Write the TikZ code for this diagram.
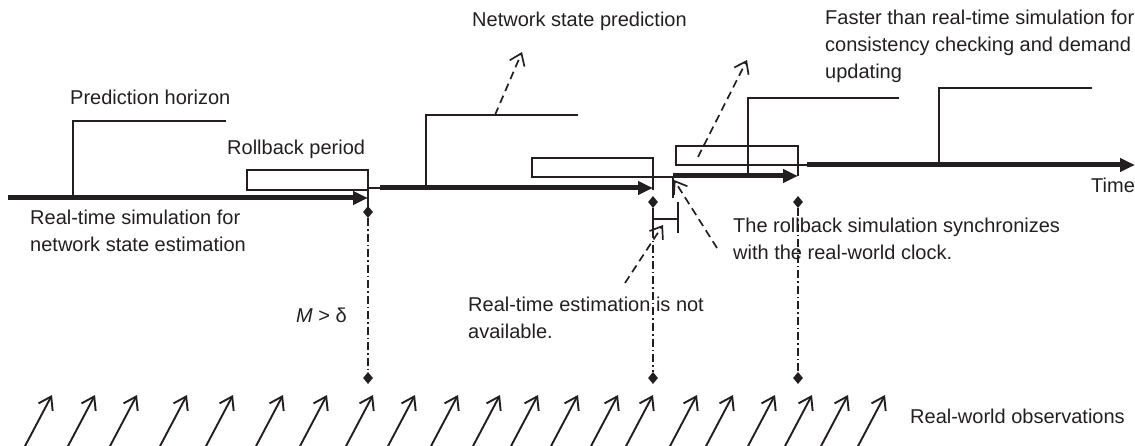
\documentclass[tikz,border=0pt]{standalone}
\usepackage{fontspec}
\setmainfont{Liberation Sans}
\usetikzlibrary{arrows.meta,shapes.geometric}
\definecolor{ink}{HTML}{231F20}
\newcommand{\mlines}[1]{\begin{tabular}[t]{@{}l@{}}#1\end{tabular}}
\begin{document}
\begin{tikzpicture}[x=1pt,y=-1pt,
  lbl/.style={anchor=base west,inner sep=0pt,text=ink,font=\fontsize{20}{27}\selectfont},
  timeline/.style={line width=5pt,draw=ink,-{Triangle[length=15pt,width=13pt]}},
  thin/.style={line width=1.8pt,draw=ink},
  bracketline/.style={line width=2pt,draw=ink},
  dasharrow/.style={line width=1.7pt,draw=ink,dash pattern=on 8pt off 5pt,-{Straight Barb[length=11pt,width=16pt,line width=1.7pt]}},
  obsarrow/.style={line width=1.9pt,draw=ink,-{Straight Barb[length=12pt,width=16pt,line width=1.9pt]}},
  dashdot/.style={line width=1.5pt,draw=ink,dash pattern=on 8pt off 3pt on 1.5pt off 3pt},
  diamark/.style={diamond,fill=ink,draw=none,inner sep=0pt,minimum width=10pt,minimum height=12pt}]
\useasboundingbox (0,0) rectangle (1135,446);

% ---- time line coordinates
\coordinate (a1s) at (8,198);   \coordinate (a1e) at (368,198);
\coordinate (a2j) at (368,188); \coordinate (a2s) at (380,188); \coordinate (a2e) at (653,188);
\coordinate (a3s) at (673,176); \coordinate (a3e) at (798,176);
\coordinate (a4j) at (798,165); \coordinate (a4s) at (807,165); \coordinate (a4e) at (1135,165);

% thick arrows
\draw[timeline] (a1s) -- (a1e);
\draw[thin] (a2j) -- (a2s);
\draw[timeline] (a2s) -- (a2e);
\draw[timeline] (a3s) -- (a3e);
\draw[thin] (a4j) -- (a4s);
\draw[timeline] (a4s) -- (a4e);

% rollback boxes
\draw[thin] (368,212) -- (368,170) -- (247,170) -- (247,190) -- (368,190);
\draw[thin] (653,190) -- (653,158) -- (532,158) -- (532,177) -- (673,177);
\draw[thin] (673,198) -- (673,176);
\draw[thin] (798,176) -- (798,146) -- (676,146) -- (676,165) -- (807,165);

% prediction horizon brackets
\draw[bracketline] (73,198) -- (73,121) -- (226,121);
\draw[bracketline] (426,188) -- (426,115) -- (578,115);
\draw[bracketline] (748,176) -- (748,98) -- (899,98);
\draw[bracketline] (939,165) -- (939,88) -- (1092,88);

% markers
\node[diamark] (d1t) at (368,212) {};
\node[diamark] (d1b) at (368,378) {};
\node[diamark] (d2t) at (653,202) {};
\node[diamark] (d2b) at (653,378) {};
\node[diamark] (d3t) at (798,202) {};
\node[diamark] (d3b) at (798,378) {};
\coordinate (d2h) at (653,230);
\draw[dashdot] (d1t) -- (d1b);
\draw[dashdot] (d2h) -- (d2b);
\draw[dashdot] (d3t) -- (d3b);

% H-shaped gap marker
\draw[line width=2.6pt,draw=ink] (d2t) -- (d2h);
\draw[line width=2.2pt,draw=ink] (653,219) -- (678,219);
\draw[line width=2.2pt,draw=ink] (678,202) -- (678,233);

% dashed pointer arrows
\coordinate (p1s) at (495,115); \coordinate (p1e) at (522,52);
\coordinate (p2s) at (698,157); \coordinate (p2e) at (747,60);
\coordinate (p3s) at (717,248); \coordinate (p3e) at (674,180);
\coordinate (p4s) at (625,283); \coordinate (p4e) at (663,225);
\draw[dasharrow] (p1s) -- (p1e);
\draw[dasharrow] (p2s) -- (p2e);
\draw[dasharrow] (p3s) -- (p3e);
\draw[dasharrow] (p4s) -- (p4e);

% real-world observations
\foreach \h [count=\i] in {52,95,137,187,233,283,327,373,415,458,500,538,578,618,653,697,733,775,812,848,885}{
  \coordinate (o\i s) at (\h-28,448);
  \coordinate (o\i e) at (\h,395);
  \draw[obsarrow] (o\i s) -- (o\i e);
}

% labels
\node[lbl] (tph) at (70,105) {Prediction horizon};
\node[lbl] (trp) at (227,155) {Rollback period};
\node[lbl] (tnp) at (472,27) {Network state prediction};
\node[lbl] (tft) at (825,25) {\mlines{Faster than real-time simulation for\\consistency checking and demand\\updating}};
\node[lbl] (ttm) at (1091,193) {Time};
\node[lbl] (trs) at (30,225) {\mlines{Real-time simulation for\\network state estimation}};
\node[lbl] (tsy) at (733,233) {\mlines{The rollback simulation synchronizes\\with the real-world clock.}};
\node[lbl] (tna) at (468,312) {\mlines{Real-time estimation is not\\available.}};
\node[lbl] (tmd) at (296,323) {\textit{M} > δ};
\node[lbl] (trw) at (910,423) {Real-world observations};
\end{tikzpicture}
\end{document}
